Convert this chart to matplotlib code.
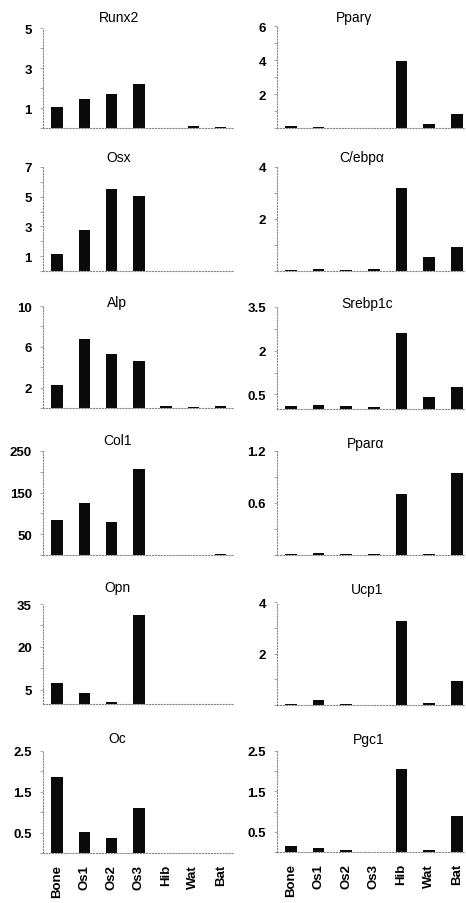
import numpy as np
import matplotlib
matplotlib.use("Agg")
import matplotlib.pyplot as plt
from matplotlib.ticker import AutoMinorLocator

plt.rcParams['font.family'] = ['Liberation Sans', 'DejaVu Sans']

samples = ['Bone', 'Os1', 'Os2', 'Os3', 'Hib', 'Wat', 'Bat']

# left column: osteoblast markers
runx2 = [1.05, 1.45, 1.7, 2.2, 0.02, 0.1, 0.03]
osx = [1.15, 2.75, 5.5, 5.05, 0.02, 0.02, 0.02]
alp = [2.3, 6.8, 5.3, 4.6, 0.15, 0.05, 0.15]
col1 = [85, 126, 80, 207, 1, 1, 1.5]
opn = [7.3, 3.9, 0.6, 31, 0.05, 0.05, 0.05]
oc = [1.86, 0.52, 0.36, 1.11, 0.0, 0.0, 0.0]

# right column: adipocyte markers
ppar_g = [0.1, 0.08, 0.02, 0.02, 3.95, 0.25, 0.8]
cebp_a = [0.05, 0.06, 0.04, 0.06, 3.2, 0.55, 0.92]
srebp1c = [0.1, 0.15, 0.1, 0.08, 2.62, 0.4, 0.74]
ppar_a = [0.01, 0.02, 0.01, 0.01, 0.7, 0.01, 0.95]
ucp1 = [0.02, 0.2, 0.04, 0.01, 3.25, 0.08, 0.95]
pgc1 = [0.15, 0.1, 0.05, 0.01, 2.05, 0.06, 0.88]

left_genes = ['Runx2', 'Osx', 'Alp', 'Col1', 'Opn', 'Oc']
right_genes = ['Ppar\u03b3', 'C/ebp\u03b1', 'Srebp1c', 'Ppar\u03b1', 'Ucp1', 'Pgc1']
left_vals = [runx2, osx, alp, col1, opn, oc]
right_vals = [ppar_g, cebp_a, srebp1c, ppar_a, ucp1, pgc1]

left_ymax = [5, 7, 10, 250, 35, 2.5]
right_ymax = [6, 4, 3.5, 1.2, 4, 2.5]
left_ticks = [[1, 3, 5], [1, 3, 5, 7], [2, 6, 10], [50, 150, 250], [5, 20, 35], [0.5, 1.5, 2.5]]
right_ticks = [[2, 4, 6], [2, 4], [0.5, 2, 3.5], [0.6, 1.2], [2, 4], [0.5, 1.5, 2.5]]
left_ticklabels = [['1', '3', '5'], ['1', '3', '5', '7'], ['2', '6', '10'], ['50', '150', '250'],
                   ['5', '20', '35'], ['0.5', '1.5', '2.5']]
right_ticklabels = [['2', '4', '6'], ['2', '4'], ['0.5', '2', '3.5'], ['0.6', '1.2'], ['2', '4'],
                    ['0.5', '1.5', '2.5']]

W, H = 466, 904
fig = plt.figure(figsize=(W / 100, H / 100), dpi=100)

# pixel layout (top, bottom) per row
left_rows = [(29, 129), (168, 272), (307, 409), (452, 556), (605, 705), (752, 854)]
right_rows = [(27, 129), (168, 272), (308, 410), (452, 556), (603, 706), (752, 853)]
title_off = [[11, 10, 4, 11, 17, 13], [9, 10, 4, 8, 13, 12]]
col_x = [(43, 233), (277, 465)]
col_xlim = [(-0.52, 6.45), (-0.5, 6.3)]
title_x = [[0.4, 0.4, 0.39, 0.39, 0.39, 0.39], [0.41, 0.45, 0.48, 0.47, 0.48, 0.49]]

columns = [
    (left_genes, left_vals, left_ymax, left_ticks, left_ticklabels, left_rows),
    (right_genes, right_vals, right_ymax, right_ticks, right_ticklabels, right_rows),
]

x = np.arange(len(samples))
for c, (genes, vals, ymaxs, ticks, tlabels, rows) in enumerate(columns):
    x0, x1 = col_x[c]
    for r in range(6):
        top, bot = rows[r]
        ax = fig.add_axes([x0 / W, 1 - bot / H, (x1 - x0) / W, (bot - top) / H])
        ax.bar(x, vals[r], width=0.42, color='#0a0a0a')
        ax.set_xlim(*col_xlim[c])
        ax.set_ylim(0, ymaxs[r])
        ax.set_yticks(ticks[r])
        ax.set_yticklabels(tlabels[r], fontsize=9.5, fontweight='bold')
        ax.yaxis.set_minor_locator(AutoMinorLocator(2))
        ax.tick_params(axis='y', which='both', length=2, width=0.6, color='#999999', pad=6)
        for s in ['top', 'right']:
            ax.spines[s].set_visible(False)
        for s in ['left', 'bottom']:
            ax.spines[s].set_linestyle(':')
            ax.spines[s].set_color('#888888')
            ax.spines[s].set_linewidth(0.8)
        if r == 5:
            ax.set_xticks(x)
            ax.set_xticklabels(samples, rotation=90, fontsize=9.5, fontweight='bold')
            ax.tick_params(axis='x', length=0, pad=8)
        else:
            ax.set_xticks([])
        ax.annotate(genes[r], xy=(title_x[c][r], 1), xycoords='axes fraction',
                    xytext=(0, title_off[c][r] * 0.72), textcoords='offset points',
                    ha='center', va='center', fontsize=10)

fig.savefig('out.png', dpi=100)
